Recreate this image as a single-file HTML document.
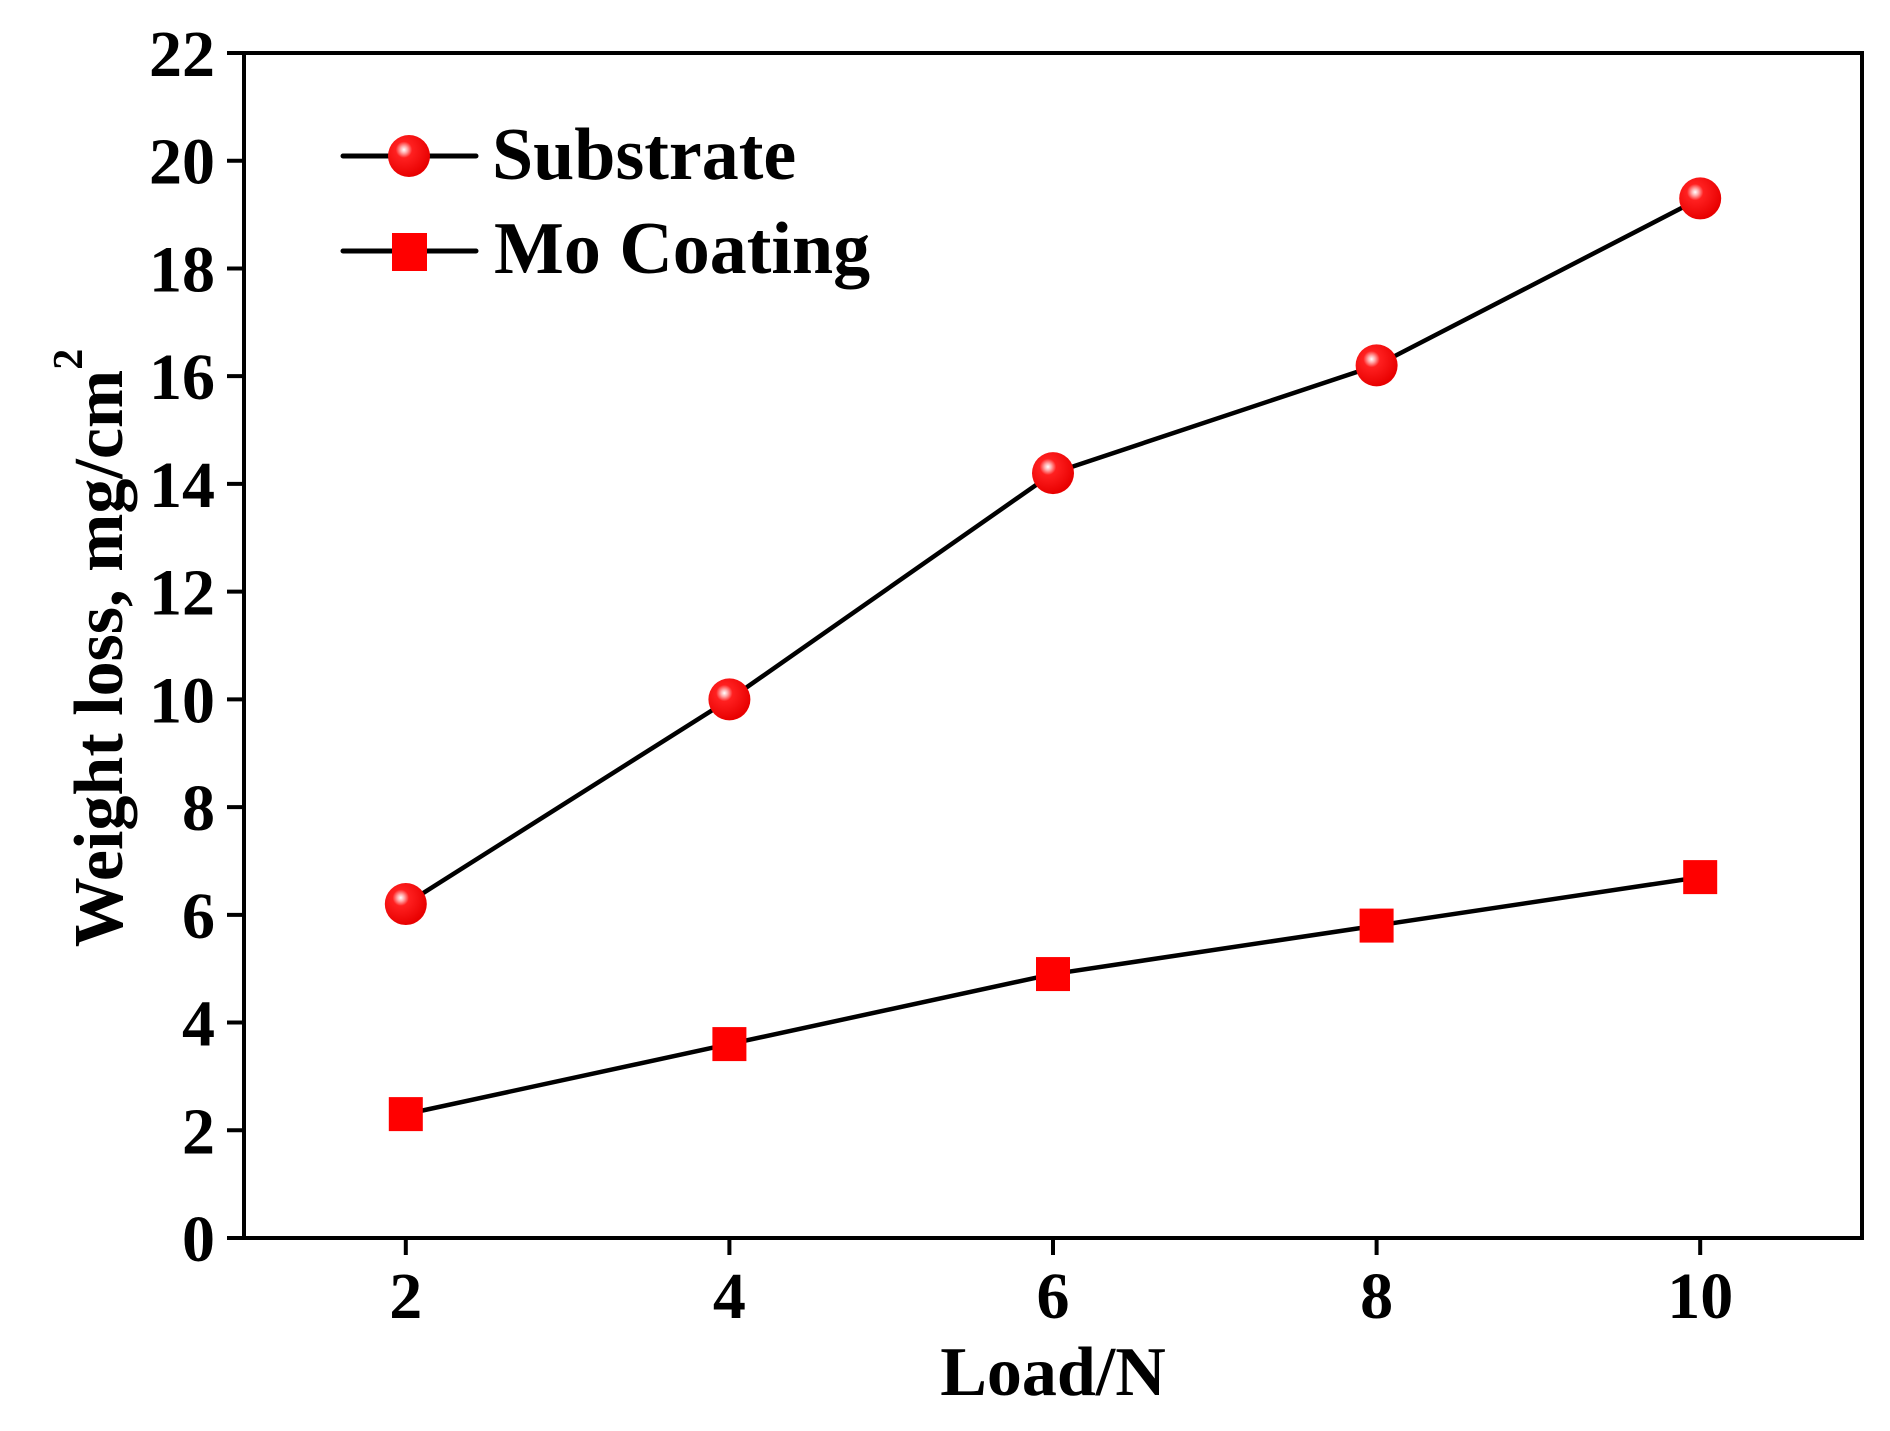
<!DOCTYPE html>
<html><head><meta charset="utf-8"><style>
html,body{margin:0;padding:0;background:#fff;}
svg{display:block;font-family:"Liberation Serif",serif;font-weight:bold;}
</style></head><body>
<svg id="chart" width="1890" height="1431" viewBox="0 0 1890 1431" xmlns="http://www.w3.org/2000/svg">
<defs>
<radialGradient id="ball" cx="0.38" cy="0.35" r="0.65">
<stop offset="0" stop-color="#ffffff"/><stop offset="0.12" stop-color="#ffb0b0"/><stop offset="0.3" stop-color="#ff2020"/><stop offset="1" stop-color="#e80000"/>
</radialGradient>
</defs>
<g id="plot"></g>
</svg>
<script>
const xCats = [2, 4, 6, 8, 10];
const substrate = [6.2, 10.0, 14.2, 16.2, 19.3];
const moCoating = [2.3, 3.6, 4.9, 5.8, 6.7];
const yTicks = [0, 2, 4, 6, 8, 10, 12, 14, 16, 18, 20, 22];
const xTicks = [2, 4, 6, 8, 10];

const L = 244, R = 1862, T = 53, B = 1238;
const xMin = 1, xMax = 11, yMin = 0, yMax = 22;
const sx = v => L + (v - xMin) / (xMax - xMin) * (R - L);
const sy = v => B - (v - yMin) / (yMax - yMin) * (B - T);
const NS = "http://www.w3.org/2000/svg";
const g = document.getElementById('plot');
function mk(tag, attrs, parent) {
  const e = document.createElementNS(NS, tag);
  for (const k in attrs) e.setAttribute(k, attrs[k]);
  (parent || g).appendChild(e);
  return e;
}

const frame = mk('rect', {x: L, y: T, width: R - L, height: B - T, fill: 'none', stroke: '#000', 'stroke-width': 4});



yTicks.forEach(v => {
  const t = mk('line', {x1: L - 17, x2: L, y1: sy(v), y2: sy(v), stroke: '#000', 'stroke-width': 4});
  
  
  const lb = mk('text', {x: 215, y: sy(v) + 23, 'text-anchor': 'end', 'font-size': 66});
  lb.textContent = v;
  
  
});
xTicks.forEach(v => {
  const t = mk('line', {x1: sx(v), x2: sx(v), y1: B, y2: B + 17, stroke: '#000', 'stroke-width': 4});
  
  
  const lb = mk('text', {x: sx(v), y: 1318, 'text-anchor': 'middle', 'font-size': 66});
  lb.textContent = v;
  
  
});

const xt = mk('text', {x: 1053, y: 1395, 'text-anchor': 'middle', 'font-size': 70});
xt.textContent = 'Load/N';


const yt = mk('text', {x: 0, y: 0, 'text-anchor': 'middle', 'font-size': 70, transform: 'translate(122,648) rotate(-90)'});


yt.appendChild(document.createTextNode('Weight loss, mg/cm'));
const sup = mk('tspan', {'font-size': 42, dy: -40}, yt);
sup.textContent = '2';

function polyline(vals, name) {
  const pts = xCats.map((x, i) => sx(x) + ',' + sy(vals[i])).join(' ');
  const p = mk('polyline', {points: pts, fill: 'none', stroke: '#000', 'stroke-width': 4.5});
  
  
}
polyline(substrate, 'substrate-line');
polyline(moCoating, 'mo-coating-line');

substrate.forEach((v, i) => {
  const c = mk('circle', {cx: sx(xCats[i]), cy: sy(v), r: 21, fill: 'url(#ball)'});
  
  
});
moCoating.forEach((v, i) => {
  const s = mk('rect', {x: sx(xCats[i]) - 17, y: sy(v) - 17, width: 34, height: 34, fill: '#ff0000'});
  
  
});

const lg = mk('g', {});


const l1 = mk('line', {x1: 343, x2: 476, y1: 156, y2: 156, stroke: '#000', 'stroke-width': 5, 'stroke-linecap': 'round'}, lg);


const c1 = mk('circle', {cx: 409, cy: 156, r: 21, fill: 'url(#ball)'}, lg);


const t1 = mk('text', {x: 492, y: 179, 'font-size': 74}, lg);
t1.textContent = 'Substrate';


const l2 = mk('line', {x1: 343, x2: 476, y1: 251, y2: 251, stroke: '#000', 'stroke-width': 5, 'stroke-linecap': 'round'}, lg);


const s2 = mk('rect', {x: 392, y: 233, width: 35, height: 38, fill: '#ff0000'}, lg);


const t2 = mk('text', {x: 494, y: 273, 'font-size': 74}, lg);
t2.textContent = 'Mo Coating';


</script>
</body></html>
